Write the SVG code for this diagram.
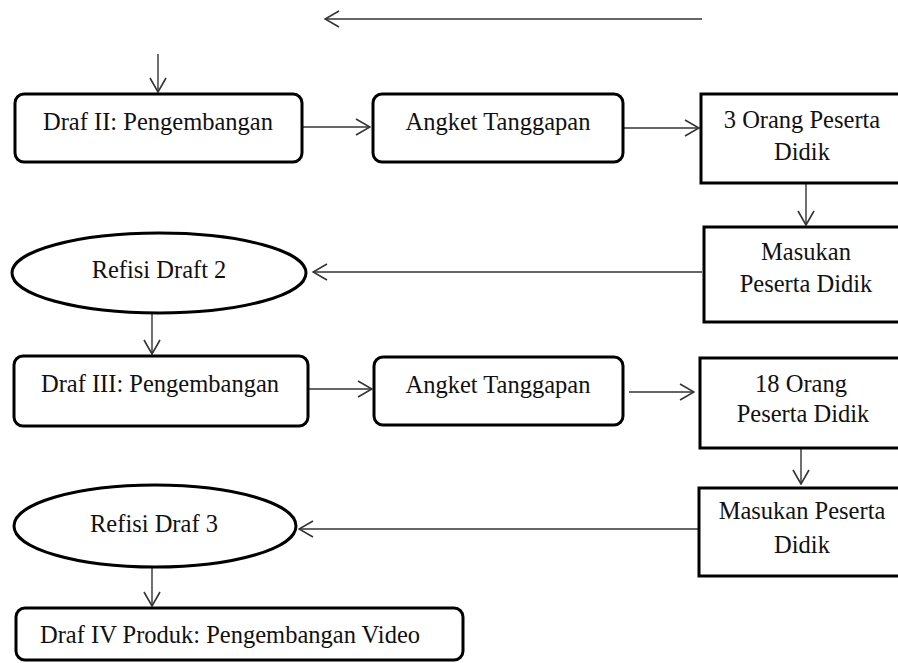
<svg xmlns="http://www.w3.org/2000/svg" width="898" height="663" viewBox="0 0 898 663">
<style>
.box{fill:#fff;stroke:#000;stroke-width:3}
.conn{fill:none;stroke:#333;stroke-width:1.4}
text{font-family:"Liberation Serif","Times New Roman",serif;font-size:24.5px;fill:#111;text-anchor:middle}
</style>
<defs>
<marker id="arr" viewBox="0 0 16 18" markerWidth="16" markerHeight="18" refX="15" refY="9" orient="auto" markerUnits="userSpaceOnUse">
<path d="M1,1 L15,9 L1,17" fill="none" stroke="#333" stroke-width="1.6"/>
</marker>
</defs>
<rect width="898" height="663" fill="#fff"/>
<g id="connectors">
<line class="conn" x1="702" y1="19" x2="325" y2="19" marker-end="url(#arr)"/>
<line class="conn" x1="158" y1="54" x2="158" y2="92" marker-end="url(#arr)"/>
<line class="conn" x1="302" y1="127" x2="370" y2="127" marker-end="url(#arr)"/>
<line class="conn" x1="623" y1="128" x2="699" y2="128" marker-end="url(#arr)"/>
<line class="conn" x1="806" y1="184" x2="806" y2="225" marker-end="url(#arr)"/>
<line class="conn" x1="702" y1="272" x2="313" y2="272" marker-end="url(#arr)"/>
<line class="conn" x1="152" y1="314" x2="152" y2="354" marker-end="url(#arr)"/>
<line class="conn" x1="308" y1="389" x2="372" y2="389" marker-end="url(#arr)"/>
<line class="conn" x1="629" y1="392" x2="694" y2="392" marker-end="url(#arr)"/>
<line class="conn" x1="801" y1="449" x2="801" y2="484" marker-end="url(#arr)"/>
<line class="conn" x1="698" y1="529" x2="299" y2="529" marker-end="url(#arr)"/>
<line class="conn" x1="152" y1="568" x2="152" y2="606" marker-end="url(#arr)"/>
</g>
<g id="draf2">
<rect class="box" x="15" y="94" width="287" height="68" rx="9"/>
<text x="158" y="130">Draf II: Pengembangan</text>
</g>
<g id="angket1">
<rect class="box" x="373" y="94" width="250" height="68" rx="9"/>
<text x="498" y="130">Angket Tanggapan</text>
</g>
<g id="orang3">
<rect class="box" x="701" y="94" width="210" height="89"/>
<text x="802" y="128">3 Orang Peserta</text>
<text x="802" y="160">Didik</text>
</g>
<g id="masukan1">
<rect class="box" x="704" y="227" width="210" height="95"/>
<text x="806" y="260">Masukan</text>
<text x="806" y="292">Peserta Didik</text>
</g>
<g id="refisi2">
<ellipse class="box" cx="159" cy="273" rx="147" ry="40"/>
<text x="159" y="278">Refisi Draft 2</text>
</g>
<g id="draf3">
<rect class="box" x="14" y="356" width="294" height="70" rx="9"/>
<text x="160" y="392">Draf III: Pengembangan</text>
</g>
<g id="angket2">
<rect class="box" x="374" y="357" width="249" height="68" rx="9"/>
<text x="498" y="393">Angket Tanggapan</text>
</g>
<g id="orang18">
<rect class="box" x="700" y="358" width="210" height="90"/>
<text x="801" y="392">18 Orang</text>
<text x="803" y="422">Peserta Didik</text>
</g>
<g id="masukan2">
<rect class="box" x="699" y="488" width="210" height="88"/>
<text x="802" y="519">Masukan Peserta</text>
<text x="802" y="553">Didik</text>
</g>
<g id="refisi3">
<ellipse class="box" cx="155" cy="526" rx="141" ry="41"/>
<text x="154" y="532">Refisi Draf 3</text>
</g>
<g id="draf4">
<rect class="box" x="16" y="608" width="447" height="52" rx="9"/>
<text x="230" y="643">Draf IV Produk: Pengembangan Video</text>
</g>
</svg>
